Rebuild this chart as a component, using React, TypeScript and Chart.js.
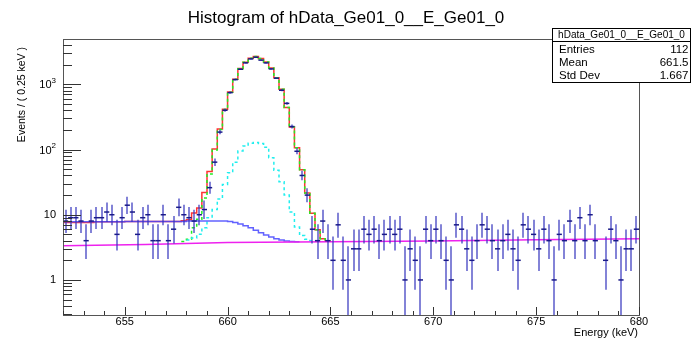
import React, { useEffect, useRef } from "react";
import { Chart, registerables } from "chart.js";

Chart.register(...registerables);

// ---- binning / axis ranges ----
const X_MIN = 652;
const X_MAX = 680;
const BIN_WIDTH = 0.25;
const Y_MIN = 0.29;
const Y_MAX = 4950;

// ---- data: counts per 0.25 keV bin (112 bins, 652..680 keV) ----
const dataCounts = [
  8, 9, 9, 8, 4, 8, 9, 9, 11, 10,
  5, 9, 14, 11, 5, 9, 10, 4, 4, 10,
  4, 6, 13, 10, 9, 8, 10, 12, 26, 64,
  185, 400, 745, 1180, 1700, 2130, 2450, 2600, 2350, 2130,
  1720, 1240, 810, 510, 225, 94, 40, 20, 6, 4,
  8, 4, 2, 7, 2, 1, 3, 3, 6, 5,
  6, 4, 5, 6, 5, 6, 1, 3, 2, 1,
  6, 4, 6, 4, 2, 1, 7, 6, 3, 2,
  4, 7, 6, 4, 3, 4, 5, 3, 2, 7,
  6, 5, 3, 6, 4, 1, 5, 4, 8, 4,
  9, 4, 10, 4, 0, 2, 6, 4, 1, 3,
  3, 6,
];

// ---- model curves (binned, value per bin starting at given first bin) ----
const totalModelFirstBin = 0;
const totalModel = [
  7.6, 7.6, 7.6, 7.6, 7.6, 7.6, 7.8, 7.8, 7.8, 7.8,
  7.8, 7.8, 7.9, 7.9, 7.9, 7.9, 7.9, 7.9, 7.9, 7.9,
  7.9, 7.9, 7.9, 8.1, 8.4, 10.6, 12.7, 22, 46, 102,
  207, 413, 760, 1200, 1740, 2180, 2500, 2670, 2480, 2200,
  1780, 1260, 840, 440, 222, 106, 49, 21.6, 10.5, 5.9,
  4.3, 4.0,
];

const stepBkgFirstBin = 0;
const stepBkg = [
  7.8, 7.8, 7.8, 7.8, 7.8, 7.8, 7.8, 7.8, 7.8, 7.8,
  7.8, 7.8, 7.9, 7.9, 7.9, 7.9, 7.9, 7.9, 7.9, 7.9,
  7.9, 7.9, 7.9, 7.9, 8.0, 8.0, 8.0, 8.0, 8.0, 8.0,
  8.0, 8.0, 7.9, 7.6, 7.2, 6.8, 6.3, 5.8, 5.3, 4.9,
  4.55, 4.3, 4.1, 3.95, 3.87, 3.85,
];

const peakFirstBin = 23;
const peakModel = [
  3.9, 4.2, 6.3, 8.5, 18, 42, 98, 203, 409, 756,
  1196, 1737, 2177, 2498, 2668, 2479, 2199, 1779, 1260, 840,
  440, 222, 106, 49, 21.6, 10.5, 5.9, 4.3, 4.0,
];

const secondPeakFirstBin = 24;
const secondPeakModel = [
  4.1, 4.4, 5.0, 6.3, 9, 12, 17.5, 29, 44, 64,
  95, 113, 125, 128, 124, 108, 75, 48, 32, 20,
  11, 6.5, 4.8, 4.2, 4.0,
];

const flatBkgX = [652, 656, 660, 665, 670, 675, 680];
const flatBkgY = [3.35, 3.5, 3.75, 3.85, 3.95, 4.15, 4.3];

// ---- ticks / labels ----
const xMajorTicks = [655, 660, 665, 670, 675, 680];
const xTickLabels = ["655", "660", "665", "670", "675", "680"];
const yTickValues = [1, 10, 100, 1000];
const yTickBases = ["1", "10", "10", "10"];
const yTickExponents = ["", "", "2", "3"];

const titleText = "Histogram of hData_Ge01_0__E_Ge01_0";
const xTitle = "Energy (keV)";
const yTitle = "Events / ( 0.25 keV )";
const statsTitle = "hData_Ge01_0__E_Ge01_0";
const statsNames = ["Entries", "Mean", "Std Dev"];
const statsValues = ["112", "661.5", "1.667"];

// 68.27% Poisson (Garwood) interval table for small counts
const poissonLow = [0, 0.173, 0.708, 1.367, 2.086, 2.84, 3.62, 4.419, 5.232, 6.057, 6.891, 7.734, 8.585, 9.441, 10.3, 11.17];
const poissonHigh = [1.841, 3.3, 4.638, 5.918, 7.163, 8.382, 9.584, 10.77, 11.95, 13.11, 14.27, 15.42, 16.56, 17.7, 18.83, 19.96];

const FONT = '"Liberation Sans", Arial, Helvetica, sans-serif';

function poissonInterval(n: number): [number, number] {
  if (n < poissonLow.length) return [poissonLow[n], poissonHigh[n]];
  const s = Math.sqrt(n);
  return [n - s, n + s + 1];
}

function binCenter(i: number) {
  return X_MIN + (i + 0.5) * BIN_WIDTH;
}

function stepPoints(first: number, values: number[]) {
  const pts = values.map((v, i) => ({ x: X_MIN + (first + i) * BIN_WIDTH, y: v }));
  pts.push({ x: X_MIN + (first + values.length) * BIN_WIDTH, y: values[values.length - 1] });
  return pts;
}

const rootPlugin = {
  id: "rootStyle",
  beforeDatasetDraw(chart: any, args: any) {
    if (args.index !== 0) return;
    const { ctx, chartArea: a, scales } = chart;
    const x = scales.x;
    const y = scales.y;
    ctx.save();
    ctx.beginPath();
    ctx.rect(a.left, a.top, a.right - a.left, a.bottom - a.top);
    ctx.clip();
    ctx.strokeStyle = "rgba(55,55,190,0.62)";
    ctx.lineWidth = 2;
    dataCounts.forEach((n, i) => {
      if (n <= 0) return;
      const [lo, hi] = poissonInterval(n);
      const px = Math.round(x.getPixelForValue(binCenter(i)));
      const yLo = lo > 0 ? y.getPixelForValue(lo) : a.bottom + 5;
      const yHi = y.getPixelForValue(hi);
      ctx.beginPath();
      ctx.moveTo(px, Math.min(yLo, a.bottom + 5));
      ctx.lineTo(px, yHi);
      ctx.stroke();
    });
    ctx.restore();
  },
  afterDraw(chart: any) {
    const { ctx, chartArea: a, scales } = chart;
    const x = scales.x;
    const y = scales.y;
    ctx.save();

    // frame
    ctx.strokeStyle = "#555";
    ctx.lineWidth = 1;
    ctx.strokeRect(a.left + 0.5, a.top + 0.5, a.right - a.left, a.bottom - a.top);

    // y ticks (log)
    ctx.strokeStyle = "#333";
    for (let e = -1; e <= 3; e++) {
      for (let m = 1; m <= 9; m++) {
        const v = m * Math.pow(10, e);
        if (v < Y_MIN || v > Y_MAX) continue;
        const py = Math.round(y.getPixelForValue(v)) + 0.5;
        const len = m === 1 ? 18 : 9;
        ctx.beginPath();
        ctx.moveTo(a.left, py);
        ctx.lineTo(a.left + len, py);
        ctx.stroke();
      }
    }
    // x ticks
    for (let v = Math.ceil(X_MIN); v <= X_MAX; v++) {
      const px = Math.round(x.getPixelForValue(v)) + 0.5;
      const len = xMajorTicks.includes(v) ? 8 : 4;
      ctx.beginPath();
      ctx.moveTo(px, a.bottom);
      ctx.lineTo(px, a.bottom - len);
      ctx.stroke();
    }

    ctx.fillStyle = "#000";
    // x tick labels
    ctx.font = `11px ${FONT}`;
    ctx.textAlign = "center";
    ctx.textBaseline = "middle";
    xMajorTicks.forEach((v, i) => {
      ctx.fillText(xTickLabels[i], x.getPixelForValue(v), 321.5);
    });
    // y tick labels
    yTickValues.forEach((v, i) => {
      const py = y.getPixelForValue(v);
      const right = a.left - 7;
      ctx.textBaseline = "middle";
      if (yTickExponents[i]) {
        ctx.font = `8px ${FONT}`;
        const ew = ctx.measureText(yTickExponents[i]).width;
        ctx.textAlign = "left";
        ctx.fillText(yTickExponents[i], right - ew, py - 4);
        ctx.font = `11px ${FONT}`;
        ctx.textAlign = "right";
        ctx.fillText(yTickBases[i], right - ew, py + 1);
      } else {
        ctx.font = `11px ${FONT}`;
        ctx.textAlign = "right";
        ctx.fillText(yTickBases[i], right, py + 0.5);
      }
    });

    // axis titles
    ctx.font = `11px ${FONT}`;
    ctx.textAlign = "right";
    ctx.textBaseline = "middle";
    ctx.fillText(xTitle, a.right - 1, 333);
    ctx.save();
    ctx.translate(22, a.top + 8);
    ctx.rotate(-Math.PI / 2);
    ctx.font = `10.5px ${FONT}`;
    ctx.textAlign = "right";
    ctx.textBaseline = "middle";
    ctx.fillText(yTitle, 0, 0);
    ctx.restore();

    // title
    ctx.font = `17px ${FONT}`;
    ctx.textAlign = "center";
    ctx.textBaseline = "alphabetic";
    ctx.fillText(titleText, 346, 22.5);

    // stats box
    const bx = 552.5, by = 28.5, bw = 138, bh = 54;
    ctx.fillStyle = "#fff";
    ctx.fillRect(bx, by, bw, bh);
    ctx.strokeStyle = "#000";
    ctx.lineWidth = 1;
    ctx.strokeRect(bx, by, bw, bh);
    ctx.beginPath();
    ctx.moveTo(bx, 41.5);
    ctx.lineTo(bx + bw, 41.5);
    ctx.stroke();
    ctx.fillStyle = "#000";
    ctx.font = `10px ${FONT}`;
    ctx.textAlign = "center";
    ctx.textBaseline = "middle";
    ctx.fillText(statsTitle, bx + bw / 2, 35.3);
    ctx.font = `11.5px ${FONT}`;
    const rowsY = [49.5, 62.8, 76];
    statsNames.forEach((nm, i) => {
      ctx.textAlign = "left";
      ctx.fillText(nm, 559, rowsY[i]);
      ctx.textAlign = "right";
      ctx.fillText(statsValues[i], 688.5, rowsY[i]);
    });

    ctx.restore();
  },
};

export default function App() {
  const ref = useRef<HTMLCanvasElement | null>(null);

  useEffect(() => {
    if (!ref.current) return;
    const points = dataCounts
      .map((n, i) => ({ x: binCenter(i), y: n }))
      .filter((p) => p.y > 0);

    const chart = new Chart(ref.current, {
      type: "line",
      data: {
        datasets: [
          {
            type: "scatter",
            label: "data",
            data: points,
            order: 0,
            pointStyle: "line",
            pointRadius: 2.6,
            pointBorderWidth: 1.5,
            borderColor: "#1a1a88",
            backgroundColor: "#1a1a88",
            showLine: false,
          } as any,
          {
            type: "line",
            label: "flat background",
            data: flatBkgX.map((xv, i) => ({ x: xv, y: flatBkgY[i] })),
            order: 1,
            borderColor: "#ee22ee",
            borderWidth: 1.5,
            pointRadius: 0,
            tension: 0,
            fill: false,
          },
          {
            type: "line",
            label: "step background",
            data: stepPoints(stepBkgFirstBin, stepBkg),
            order: 2,
            stepped: "before",
            borderColor: "rgba(70,70,255,0.85)",
            borderWidth: 1.5,
            pointRadius: 0,
            fill: false,
          },
          {
            type: "line",
            label: "second peak",
            data: stepPoints(secondPeakFirstBin, secondPeakModel),
            order: 3,
            stepped: "before",
            borderColor: "#22eeee",
            borderDash: [3, 3],
            borderWidth: 1.5,
            pointRadius: 0,
            fill: false,
          },
          {
            type: "line",
            label: "peak",
            data: stepPoints(peakFirstBin, peakModel),
            order: 4,
            stepped: "before",
            borderColor: "#22ee22",
            borderDash: [3, 3],
            borderWidth: 1.5,
            pointRadius: 0,
            fill: false,
          },
          {
            type: "line",
            label: "total",
            data: stepPoints(totalModelFirstBin, totalModel),
            order: 5,
            stepped: "before",
            borderColor: "rgba(255,0,0,0.8)",
            borderWidth: 1.5,
            pointRadius: 0,
            fill: false,
          },
        ],
      },
      options: {
        animation: false,
        responsive: false,
        devicePixelRatio: 1,
        events: [],
        layout: { padding: { left: 63, top: 39, right: 53, bottom: 23 } },
        plugins: {
          legend: { display: false },
          tooltip: { enabled: false },
          title: { display: false },
        },
        scales: {
          x: { type: "linear", min: X_MIN, max: X_MAX, display: false },
          y: { type: "logarithmic", min: Y_MIN, max: Y_MAX, display: false },
        },
      },
      plugins: [rootPlugin],
    });
    return () => chart.destroy();
  }, []);

  return (
    <div style={{ position: "fixed", left: 0, top: 0, width: 692, height: 338, background: "#fff" }}>
      <canvas ref={ref} width={692} height={338} style={{ width: 692, height: 338, display: "block" }} />
    </div>
  );
}
